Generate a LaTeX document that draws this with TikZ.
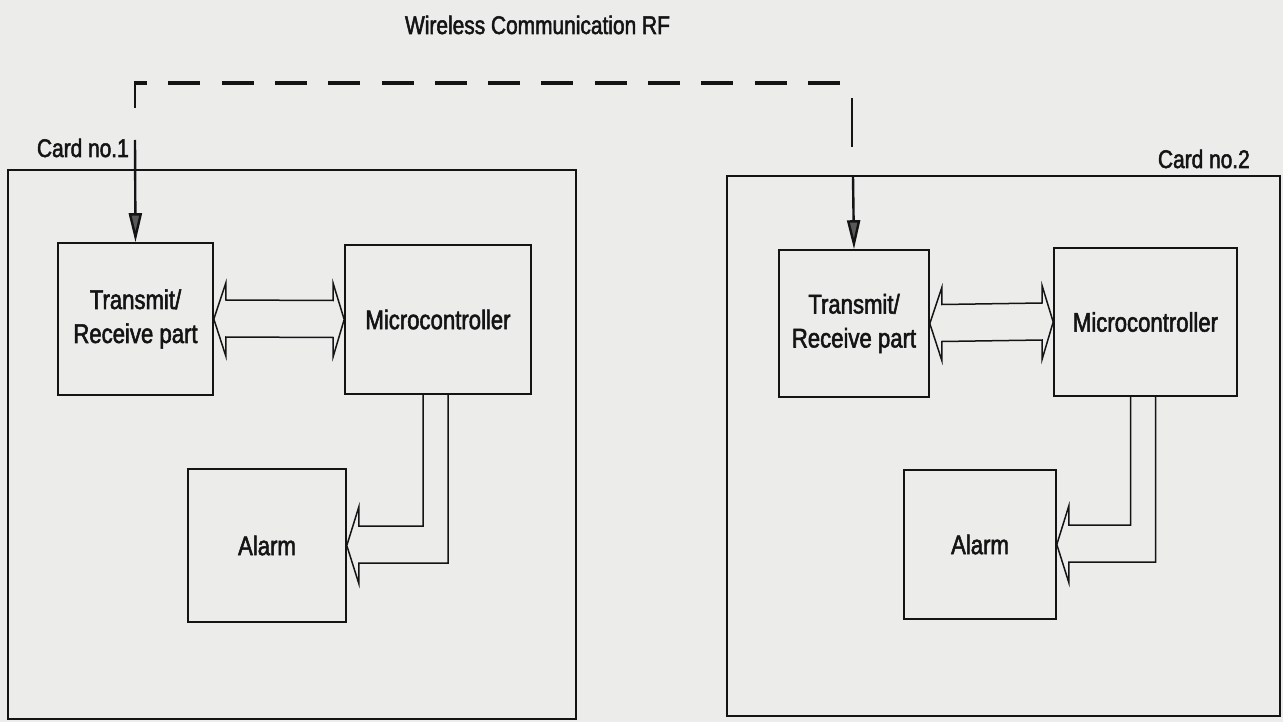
\documentclass[tikz,border=0pt]{standalone}
\usepackage{fontspec}
\newfontfamily\narrowsans[FakeStretch=0.82,FakeBold=2]{Liberation Sans}
\usetikzlibrary{arrows.meta,calc}
\definecolor{paper}{RGB}{236,236,235}
\definecolor{ink}{RGB}{20,20,20}
\tikzset{
  boxnode/.style={draw=ink, line width=1.6pt, inner sep=0pt, align=center,
    font=\narrowsans\fontsize{27}{34}\selectfont, text=ink},
  cardnode/.style={draw=ink, line width=1.6pt, inner sep=0pt},
  lbl/.style={inner sep=0pt, font=\narrowsans\fontsize{25.5}{28}\selectfont, text=ink},
  rfdash/.style={draw=ink, line width=3.8pt, dash pattern=on 32pt off 21.3pt, dash phase=20pt},
  rftick/.style={draw=ink, line width=2.6pt},
  feed/.style={draw=ink, line width=2.4pt, -{Triangle[length=29pt,width=13pt,fill=black!65]}},
  blockarrow/.style={draw=ink, line width=1.5pt, line join=miter}
}
\begin{document}
\begin{tikzpicture}[x=1pt,y=-1pt]
\fill[paper] (0,0) rectangle (1283,722);
\useasboundingbox (0,0) rectangle (1283,722);

% cards
\node[cardnode, minimum width=568pt, minimum height=549pt] (card1) at (292,444.5) {};
\node[cardnode, minimum width=553pt, minimum height=540pt] (card2) at (1003.5,446) {};

% labels
\node[lbl, anchor=base] (title) at (537.5,34) {Wireless Communication RF};
\node[lbl, anchor=base east] (c1lab) at (129,157) {Card no.1};
\node[lbl, anchor=base east] (c2lab) at (1250,168) {Card no.2};

% blocks, card 1
\node[boxnode, minimum width=155pt, minimum height=152pt] (tr1) at (135.5,319) {Transmit/\\Receive part};
\node[boxnode, minimum width=186pt, minimum height=149pt] (mc1) at (438,319.5) {Microcontroller};
\node[boxnode, minimum width=158pt, minimum height=153pt] (al1) at (267,545.5) {Alarm};

% blocks, card 2
\node[boxnode, minimum width=150pt, minimum height=147pt] (tr2) at (854,323.5) {Transmit/\\Receive part};
\node[boxnode, minimum width=183pt, minimum height=148pt] (mc2) at (1145.5,322) {Microcontroller};
\node[boxnode, minimum width=152pt, minimum height=149pt] (al2) at (980,544.5) {Alarm};

% RF link
\coordinate (rfA) at (135,108);
\coordinate (rfB) at (135,83);
\coordinate (rfC) at (840,83);
\coordinate (rfD) at (852,98);
\coordinate (rfE) at (852,147);
\coordinate (in1) at (135,140);
\coordinate (in2) at (853,176);
\draw[rftick] (rfA) -- ($(rfB)+(0,-1.9)$);
\draw[rfdash] (rfB) -- (rfC);
\draw[rftick] (rfD) -- (rfE);
\draw[feed] (in1) -- (tr1.north);
\draw[feed] (in2) -- (tr2.north);

% double block arrows
\foreach \t/\m in {tr1/mc1, tr2/mc2}{
  \draw[blockarrow] (\t.east) -- ++(12,-36) -- ++(0,17) -- ($(\m.west)+(-11,-19)$)
    -- ++(0,-17) -- (\m.west) -- ++(-11,37) -- ++(0,-19)
    -- ($(\t.east)+(12,18)$) -- ++(0,19) -- cycle;
}

% microcontroller to alarm
\foreach \m/\a in {mc1/al1, mc2/al2}{
  \draw[blockarrow] ($(\m.south)+(-15,0)$) |- ($(\a.east)+(12,-19.5)$) -- ++(0,-19)
    -- (\a.east) -- ++(12,38) -- ++(0,-20.5) -| ($(\m.south)+(10,0)$);
}
\end{tikzpicture}
\end{document}
